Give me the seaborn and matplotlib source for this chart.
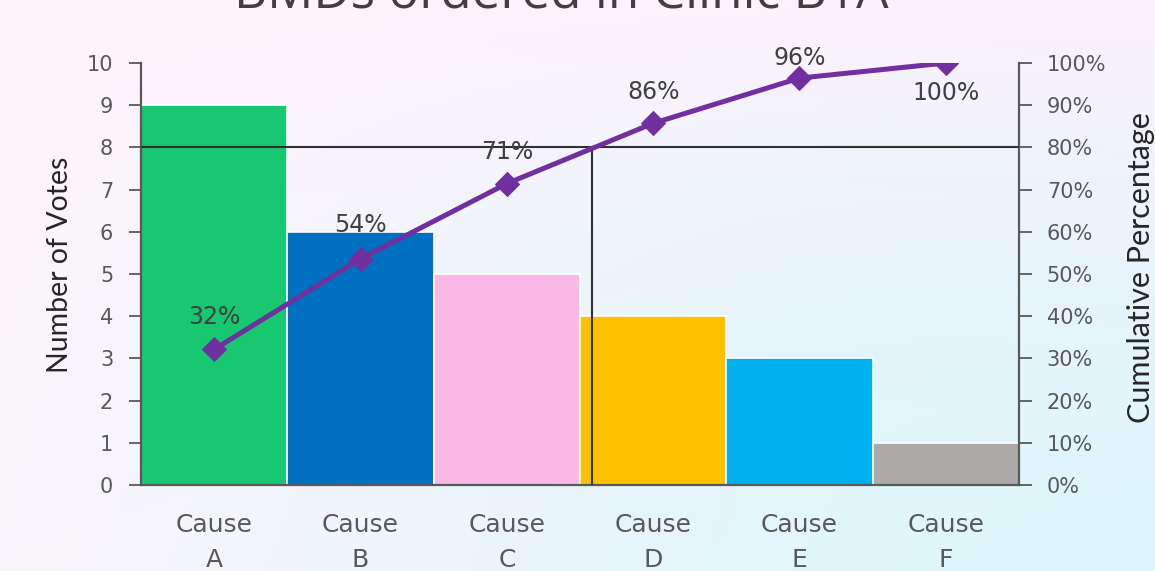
import numpy as np
import pandas as pd
import matplotlib
matplotlib.use("Agg")
import matplotlib.pyplot as plt
import seaborn as sns

categories = ["Cause\nA", "Cause\nB", "Cause\nC", "Cause\nD", "Cause\nE", "Cause\nF"]
votes = [9, 6, 5, 4, 3, 1]
cum_labels = ["32%", "54%", "71%", "86%", "96%", "100%"]
bar_colors = ["#17C870", "#0070C0", "#F9B8E6", "#FFC000", "#00B0F0", "#ADA9A9"]
title = "BMDs ordered in Clinic B1A"

sns.set_theme(style="white")
plt.rcParams["font.family"] = ["DejaVu Sans"]

total = sum(votes)
cum = np.cumsum(votes) / total
df = pd.DataFrame({"cause": categories, "votes": votes})

fig = plt.figure(figsize=(11.55, 5.71), dpi=100)

# background gradient
bg = fig.add_axes([0, 0, 1, 1], zorder=-10)
h, w = 60, 120
yy, xx = np.mgrid[0:1:h * 1j, 0:1:w * 1j]
tl = np.array([253, 244, 252]) / 255
tr = np.array([252, 241, 251]) / 255
bl = np.array([250, 245, 252]) / 255
br = np.array([218, 246, 251]) / 255
img = (tl[None, None] * ((1 - xx) * (1 - yy))[..., None] + tr[None, None] * (xx * (1 - yy))[..., None]
       + bl[None, None] * ((1 - xx) * yy)[..., None] + br[None, None] * (xx * yy)[..., None])
cy = np.exp(-(((xx - 0.75) / 0.35) ** 2 + ((yy - 0.7) / 0.4) ** 2))
cyan = np.array([222, 247, 251]) / 255
img = img * (1 - 0.6 * cy[..., None]) + cyan[None, None] * 0.6 * cy[..., None]
bg.imshow(img, aspect="auto", extent=[0, 1, 0, 1], interpolation="bilinear")
bg.axis("off")

ax = fig.add_axes([141 / 1155, 1 - 485 / 571, 878 / 1155, 422 / 571])
ax.set_facecolor("none")
sns.barplot(data=df, x="cause", y="votes", hue="cause", palette=bar_colors,
            width=1.0, legend=False, ax=ax, edgecolor="white", linewidth=1.2, saturation=1)
ax.set_xlim(-0.5, 5.5)
ax.set_ylim(0, 10)
ax.set_yticks(range(0, 11))
ax.set_xlabel("")
ax.set_ylabel("Number of Votes", fontsize=20.5, color="#262626", family=["Lato", "DejaVu Sans"])
ax.yaxis.label.set_rotation_mode("default")
ax.yaxis.label.set_va("center")
ax.yaxis.label.set_ha("center")
ax.yaxis.set_label_coords((60 - 141) / 878, (485 - 265) / 422)
ax.tick_params(axis="y", direction="out", length=9, width=1.3, color="#595959",
               labelsize=15, labelcolor="#595959", pad=11, left=True)
ax.tick_params(axis="x", length=0, labelsize=18, labelcolor="#595959", pad=20)
for s in ["top", "right"]:
    ax.spines[s].set_visible(False)
ax.spines["left"].set_color("#595959")
ax.spines["left"].set_linewidth(1.6)
ax.spines["bottom"].set_color("#595959")
ax.spines["bottom"].set_linewidth(1.6)
for t in ax.get_xticklabels():
    t.set_linespacing(1.6)

ax2 = ax.twinx()
ax2.set_ylim(0, 1)
ax2.set_yticks(np.linspace(0, 1, 11))
ax2.set_yticklabels([f"{int(round(v * 100))}%" for v in np.linspace(0, 1, 11)])
ax2.tick_params(axis="y", direction="out", length=9, width=1.3, color="#595959",
                labelsize=15, labelcolor="#595959", pad=11, right=True)
for s in ["top", "left", "bottom"]:
    ax2.spines[s].set_visible(False)
ax2.spines["right"].set_color("#595959")
ax2.spines["right"].set_linewidth(1.6)
ax2.set_ylabel("Cumulative Percentage", fontsize=22, color="#262626",
               family=["Lato", "DejaVu Sans"])
ax2.yaxis.label.set_rotation_mode("default")
ax2.yaxis.label.set_va("center")
ax2.yaxis.label.set_ha("center")
ax2.yaxis.set_label_coords((1141 - 141) / 878, (485 - 268) / 422)

x = np.arange(len(votes))
sns.lineplot(x=x, y=cum, ax=ax2, color="#7030A0", linewidth=3.6, marker="D",
             markersize=12, markeredgecolor="#7030A0", zorder=5)

# 80% reference lines
ax2.axhline(0.8, color="#303030", linewidth=1.5, zorder=4)
i = int(np.argmax(cum >= 0.8))
x80 = (i - 1) + (0.8 - cum[i - 1]) / (cum[i] - cum[i - 1])
ax2.plot([x80 - 0.02, x80 - 0.02], [0, 0.8], color="#303030", linewidth=1.5, zorder=4)

# labels
offsets = [(0, 0.076), (0, 0.08), (0, 0.075), (0, 0.075), (0, 0.048), (0, -0.071)]
for xi, yi, lab, (dx, dy) in zip(x, cum, cum_labels, offsets):
    ax2.text(xi + dx, yi + dy, lab, ha="center", va="center", fontsize=17, color="#404040", zorder=6)

fig.text(561 / 1155, 1 - 7 / 571, title, ha="center", va="baseline", fontsize=37,
         color="#404040", family=["Open Sans", "DejaVu Sans"])

fig.savefig("out.png", dpi=100)
